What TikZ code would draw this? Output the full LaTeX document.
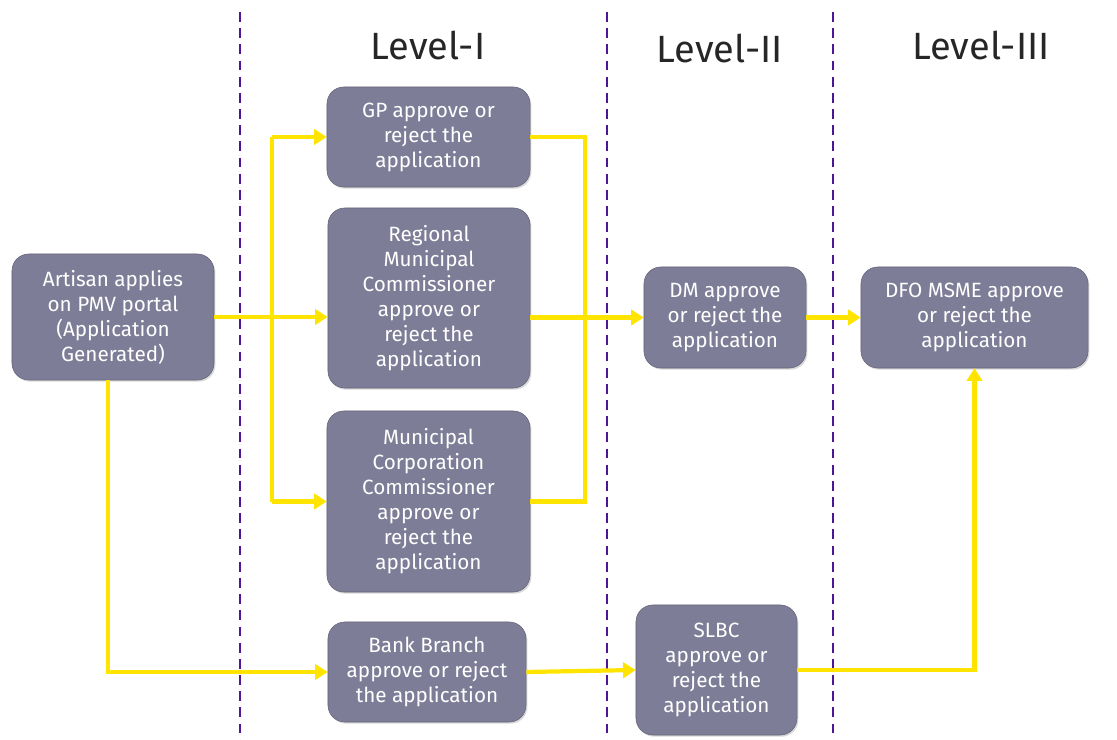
\documentclass[tikz,border=0pt]{standalone}
\usepackage{fontspec}
\setmainfont{Fira Sans}
\usetikzlibrary{arrows.meta,shadows}
\definecolor{boxfill}{RGB}{126,125,151}
\definecolor{flow}{RGB}{255,228,0}
\definecolor{divider}{RGB}{80,20,150}
\tikzset{stage/.style={draw=boxfill!80!black,fill=boxfill,rounded corners=12pt,
  text=white,align=center,inner sep=0pt,font=\fontsize{14.7}{17.8}\selectfont,
  drop shadow={opacity=0.3,shadow xshift=1pt,shadow yshift=-1.2pt}}}
\tikzset{flowline/.style={draw=flow,line width=3pt}}
\tikzset{flowarrow/.style={flowline,-{Triangle[length=9pt,width=11pt]}}}
\tikzset{divline/.style={draw=divider,line width=1.9pt,dash pattern=on 7pt off 4.5pt}}
\tikzset{level/.style={font=\fontsize{27}{31}\selectfont,text=black!85}}

\begin{document}
\begin{tikzpicture}[x=0.025cm,y=-0.025cm]
\useasboundingbox (0,0) rectangle (1117,740);

\draw[divline] (240,12) -- (240,740);
\draw[divline] (607,12) -- (607,740);
\draw[divline] (833,12) -- (833,740);

\node[level] (lvlone) at (428,45) {Level-I};
\node[level] (lvltwo) at (720,48) {Level-II};
\node[level] (lvlthree) at (981,45) {Level-III};

\node[stage,minimum width=5.05cm,minimum height=3.15cm] (artisan) at (113,317)
  {Artisan applies\\on PMV portal\\(Application\\Generated)};
\node[stage,minimum width=5.075cm,minimum height=2.5cm] (gp) at (428.5,137)
  {GP approve or\\reject the\\application};
\node[stage,minimum width=5.05cm,minimum height=4.5cm] (regional) at (429,298)
  {Regional\\Municipal\\Commissioner\\approve or\\reject the\\application};
\node[stage,minimum width=5.075cm,minimum height=4.525cm] (municipal) at (428.5,501.5)
  {Municipal\\Corporation\\Commissioner\\approve or\\reject the\\application};
\node[stage,minimum width=4.95cm,minimum height=2.5cm] (bank) at (427,672)
  {Bank Branch\\approve or reject\\the application};
\node[stage,minimum width=4.05cm,minimum height=2.525cm] (dm) at (725,317.5)
  {DM approve\\or reject the\\application};
\node[stage,minimum width=5.675cm,minimum height=2.525cm] (dfo) at (974.5,317.5)
  {DFO MSME approve\\or reject the\\application};
\node[stage,minimum width=4.025cm,minimum height=3.25cm] (slbc) at (716.5,670)
  {SLBC\\approve or\\reject the\\application};

\coordinate (split) at (272,317);
\coordinate (merge) at (585,137);

\draw[flowarrow] (artisan.east) -- (regional.west |- artisan.east);
\draw[flowline] (split |- gp.west) -- (split |- municipal.west);
\draw[flowarrow] (split |- gp.west) -- (gp.west);
\draw[flowarrow] (split |- municipal.west) -- (municipal.west);
\draw[flowline] (gp.east) -- (merge) -- (merge |- municipal.east) -- (municipal.east);
\draw[flowarrow] (regional.east |- dm.west) -- (dm.west);
\draw[flowarrow] (dm.east) -- (dfo.west);
\draw[flowarrow] ([xshift=-0.125cm]artisan.south) |- (bank.west);
\draw[flowarrow] (bank.east) -- (slbc.west);
\draw[flowarrow] (slbc.east) -| (dfo.south);
\end{tikzpicture}
\end{document}
